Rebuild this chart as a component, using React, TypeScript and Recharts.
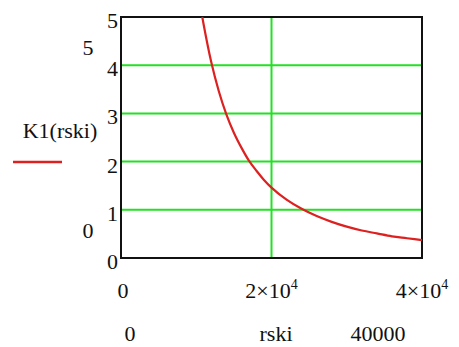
import React from "react";
import { LineChart, Line, XAxis, YAxis, CartesianGrid, Customized, ReferenceArea } from "recharts";

const rski = [10800, 11000, 12000, 13000, 14000, 15000, 16000, 17000, 18000, 19000, 20000, 22000, 24000, 26000, 28000, 30000, 32000, 34000, 36000, 38000, 40000];
const k1 = [5.0, 4.83, 4.06, 3.46, 2.98, 2.6, 2.29, 2.02, 1.81, 1.62, 1.46, 1.21, 1.02, 0.87, 0.75, 0.65, 0.57, 0.51, 0.45, 0.41, 0.37];
const xTicks = [0, 20000, 40000];
const yTicks = [0, 1, 2, 3, 4, 5];
const xTickMant = ["0", "2\u00d710", "4\u00d710"];
const xTickExp = ["", "4", "4"];

const data = rski.map((x, i) => ({ x, y: k1[i] }));

const FONT = "Liberation Serif";
const TXT = "#111";
const FS = 22;
const tStyle = { fontFamily: FONT, fontSize: FS, fill: TXT };

const XTick = (props: any) => {
  const { x, payload } = props;
  const i = xTicks.indexOf(payload.value);
  return (
    <text x={x + (i === 0 ? 2 : 0)} y={298} textAnchor="middle" fontFamily={FONT} style={tStyle}>
      {xTickMant[i]}
      {xTickExp[i] ? (
        <tspan dy={-9} style={{ fontSize: 14 }}>{xTickExp[i]}</tspan>
      ) : null}
    </text>
  );
};

const YTick = (props: any) => {
  const { y, payload } = props;
  return (
    <text x={118} y={y + 11} textAnchor="end" fontFamily={FONT} style={tStyle}>
      {String(payload.value)}
    </text>
  );
};

const Extras = () => (
  <g fontFamily={FONT}>
    <text x={88} y={55} textAnchor="middle" style={tStyle}>5</text>
    <text x={88} y={238} textAnchor="middle" style={tStyle}>0</text>
    <text x={60} y={138} textAnchor="middle" style={tStyle}>K1(rski)</text>
    <line x1={13} y1={162} x2={62} y2={162} stroke="#dd2020" strokeWidth={2.5} />
    <text x={130} y={341} textAnchor="middle" style={tStyle}>0</text>
    <text x={276} y={341} textAnchor="middle" style={tStyle}>rski</text>
    <text x={378} y={341} textAnchor="middle" style={tStyle}>40000</text>
  </g>
);

export default function App() {
  return (
    <div style={{ position: "absolute", left: 0, top: 0, width: 459, height: 347, background: "#fff", fontFamily: FONT }}>
      <style>{`.recharts-wrapper, .recharts-wrapper svg, .recharts-wrapper text, .recharts-wrapper tspan { font-family: "Liberation Serif" !important; }`}</style>
      <LineChart width={459} height={347} data={data} margin={{ top: 17, right: 37, bottom: 0, left: 0 }}>
        <CartesianGrid xAxisId="b" yAxisId="l" stroke="#22e022" strokeWidth={2} horizontalValues={[1, 2, 3, 4]} verticalValues={[20000]} />
        <XAxis dataKey="x" type="number" domain={[0, 40000]} ticks={xTicks} tick={<XTick />} tickLine={false} height={89} axisLine={false} xAxisId="b" />
        <YAxis type="number" domain={[0, 5]} ticks={yTicks} tick={<YTick />} tickLine={false} width={121} axisLine={false} yAxisId="l" />
        <Line xAxisId="b" yAxisId="l" dataKey="y" type="monotone" stroke="#dd2020" strokeWidth={2.2} dot={false} isAnimationActive={false} />
        <ReferenceArea xAxisId="b" yAxisId="l" x1={0} x2={40000} y1={0} y2={5} fill="none" fillOpacity={0} stroke="#111" strokeWidth={2} ifOverflow="visible" />
        <Customized component={Extras} />
      </LineChart>
    </div>
  );
}
